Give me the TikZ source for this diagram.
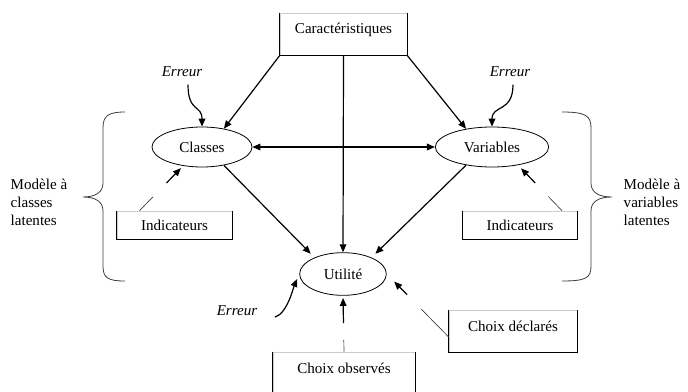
\documentclass[tikz,border=0pt]{standalone}
\usepackage{fontspec}
\setmainfont{Liberation Serif}
\usepackage{tikz}
\usetikzlibrary{shapes.geometric, arrows.meta, calc}
\definecolor{bordgris}{RGB}{205, 205, 205}
\definecolor{traitgris}{RGB}{60, 60, 60}
\tikzset{
    latente/.style={ellipse, draw, line width=0.6pt, inner sep=0pt},
    cadre/.style={rectangle, draw=bordgris, line width=0.5pt, inner sep=0pt},
    haut/.style={cadre, minimum height=31.5pt, text height=8pt, text depth=8pt},
    bord/.style={draw, black, line width=0.6pt},
    fleche/.style={draw, -{Triangle[length=6pt, width=5pt]}, line width=0.9pt},
    fleches/.style={fleche, {Triangle[length=6pt, width=5pt]}-{Triangle[length=6pt, width=5pt]}},
    fin/.style={draw, traitgris, line width=0.5pt},
    accolade/.style={draw, traitgris, line width=0.6pt}
}

\begin{document}
\begin{tikzpicture}[x=0.75pt, y=-0.75pt, font=\fontsize{11.3}{13.5}\selectfont]
    \useasboundingbox (0,0) rectangle (688,392);

    % Variables latentes et utilite
    \node (cl) [latente, minimum width=75pt, minimum height=30pt] at (202,147) {Classes};
    \node (var) [latente, minimum width=85pt, minimum height=30pt] at (492,147) {Variables};
    \node (ut) [latente, minimum width=65pt, minimum height=32pt] at (343,274) {Utilité};

    % Cadres
    \node (car) [haut, minimum width=95pt] at (343.5,34) {Caractéristiques};
    \node (indc) [cadre, minimum width=86pt, minimum height=21pt] at (174.5,225) {Indicateurs};
    \node (indv) [cadre, minimum width=86pt, minimum height=21pt] at (520,225) {Indicateurs};
    \node (obs) [haut, minimum width=106.5pt] at (344,373) {Choix observés};
    \node (decl) [haut, minimum width=96pt] at (513,331) {Choix déclarés};
    \foreach \n in {car,indc,indv,obs,decl}
        \draw[bord] (\n.north west) |- (\n.south east) -- (\n.north east);

    % Termes d'erreur
    \node (e1) [font=\fontsize{11.3}{13.5}\selectfont\itshape] at (182,72) {Erreur};
    \node (e2) [font=\fontsize{11.3}{13.5}\selectfont\itshape] at (510,72) {Erreur};
    \node (e3) [font=\fontsize{11.3}{13.5}\selectfont\itshape] at (237,311) {Erreur};

    % Accolades et modeles
    \node (modc) [anchor=west, align=left] at (6,202) {Modèle à\\classes\\latentes};
    \node (modv) [anchor=west, align=left] at (619,202) {Modèle à\\variables\\latentes};
    \draw[accolade] (125,112) .. controls (108,112) and (103,116) .. (103,128) -- (103,183)
        .. controls (103,192) and (96,197) .. (83,197) .. controls (96,197) and (103,202) .. (103,211)
        -- (103,266) .. controls (103,278) and (108,281) .. (125,281);
    \draw[accolade] (562,112) .. controls (586,112) and (591,116) .. (591,128) -- (591,183)
        .. controls (591,192) and (598,197) .. (612,197) .. controls (598,197) and (591,202) .. (591,211)
        -- (591,266) .. controls (591,278) and (586,281) .. (562,281);

    % Liens structurels
    \draw[fleche] (car.south west) -- (cl.40);
    \draw[fleche] (car.south east) -- (var.145);
    \draw[fleche] (car.south) -- (ut.north);
    \draw[fleches] (cl.east) -- (var.west);
    \draw[fleche, shorten >=4pt] (cl.-40) -- (ut.150);
    \draw[fleche, shorten >=4pt] (var.-145) -- (ut.30);

    % Erreurs
    \coordinate (d1) at ($(e1.south)+(6,3)$);
    \coordinate (d2) at ($(e2.south)+(3,3)$);
    \coordinate (d3) at ($(e3.east)+(13,6)$);
    \draw[fleche] (d1) .. controls +(0,28) and +(0,-22) .. (cl.north);
    \draw[fleche] (d2) .. controls +(0,28) and +(0,-22) .. (var.north);
    \draw[fleche, shorten >=4pt] (d3) .. controls +(12,-3) and +(-6,14) .. (ut.west);

    % Mesures : trait fin puis fleche
    \def\mesure#1#2#3#4#5{
        \draw[fin] (#1) -- ($(#1)!#3!(#2)$);
        \draw[fleche] ($(#1)!#4!(#2)$) -- ($(#1)!#5!(#2)$);
    }
    \coordinate (sc) at ($(indc.north)+(-35,0)$);
    \coordinate (sv) at ($(indv.north)+(42,0)$);
    \coordinate (sd) at ($(decl.west)+(0,6)$);
    \mesure{sc}{cl.-135}{0.31}{0.62}{0.95}
    \mesure{sv}{var.-35}{0.31}{0.61}{0.93}
    \mesure{obs.north}{ut.south}{0.21}{0.51}{0.96}
    \mesure{sd}{ut.east}{0.44}{0.67}{0.88}
\end{tikzpicture}
\end{document}
